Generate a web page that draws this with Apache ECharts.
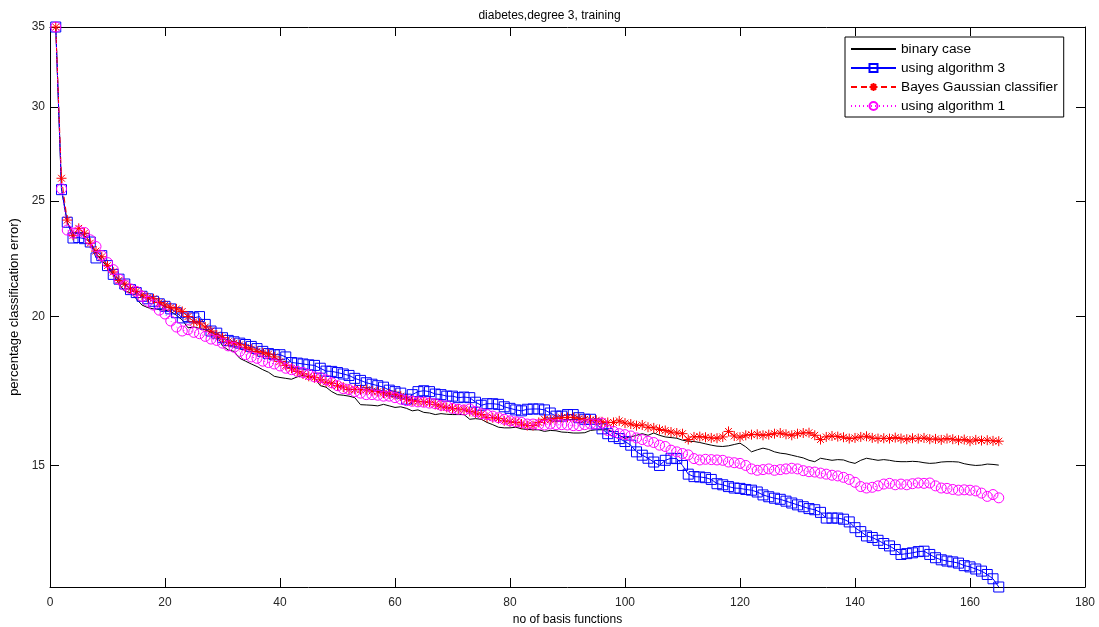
<!DOCTYPE html>
<html>
<head>
<meta charset="utf-8">
<script src="https://cdn.jsdelivr.net/npm/echarts@6/dist/echarts.min.js"></script>
<style>html,body{margin:0;padding:0;background:#fff}#c{width:1099px;height:627px}</style>
</head>
<body>
<div id="c"></div>
<script>
const titleText = 'diabetes,degree 3, training';
const xName = 'no of basis functions';
const yName = 'percentage classification error)';
const seriesNames = ['binary case', 'using algorithm 3', 'Bayes Gaussian classifier', 'using algorithm 1'];
const xTicks = [0, 20, 40, 60, 80, 100, 120, 140, 160, 180];
const yTicks = [15, 20, 25, 30, 35];

const binaryCase = [35,25.6,24.0,23.5,23.5,23.4,23.1,22.6,22.3,22.0,
21.7,21.3,21.0,20.95,20.7,20.45,20.35,20.3,20.28,20.25,
20.2,20.05,19.87,19.57,19.6,19.55,19.5,19.4,19.3,18.9,
18.75,18.7,18.45,18.35,18.25,18.16,18.05,17.96,17.82,17.78,
17.75,17.72,17.8,17.85,17.8,17.77,17.5,17.45,17.3,17.2,
17.18,17.15,17.1,16.87,16.86,16.85,16.83,16.88,16.83,16.78,
16.8,16.75,16.67,16.7,16.62,16.6,16.55,16.58,16.56,16.55,
16.55,16.55,16.4,16.42,16.4,16.3,16.23,16.15,16.13,16.13,
16.15,16.1,16.08,16.07,16.07,16.02,16.05,16.04,16.0,15.99,
15.97,15.97,15.98,16.05,16.07,16.07,16.07,16.0,15.9,15.81,
15.85,15.9,15.95,15.9,15.97,15.9,15.85,15.83,15.81,15.75,
15.72,15.71,15.68,15.64,15.6,15.57,15.56,15.58,15.62,15.66,
15.55,15.4,15.46,15.51,15.47,15.4,15.36,15.34,15.3,15.26,
15.22,15.15,15.11,15.21,15.18,15.15,15.17,15.16,15.1,15.06,
15.15,15.21,15.18,15.15,15.17,15.15,15.12,15.11,15.11,15.12,
15.11,15.08,15.06,15.07,15.1,15.11,15.11,15.1,15.05,15.02,
15.0,15.01,15.04,15.03,15.01];

const algorithm3 = [35,25.56,24.0,23.28,23.3,23.25,23.1,22.4,22.5,22.07,
21.7,21.5,21.3,21.07,20.95,20.8,20.7,20.6,20.5,20.4,
20.3,20.15,19.95,20.0,19.95,20.0,19.7,19.45,19.37,19.2,
19.1,19.05,19.0,18.95,18.88,18.8,18.7,18.62,18.58,18.58,
18.5,18.3,18.28,18.25,18.22,18.2,18.1,18.0,17.99,17.95,
17.9,17.85,17.75,17.68,17.6,17.55,17.5,17.45,17.35,17.3,
17.25,17.05,17.2,17.3,17.33,17.3,17.22,17.2,17.15,17.15,
17.1,17.12,17.1,16.95,16.85,16.9,16.9,16.88,16.8,16.75,
16.7,16.67,16.72,16.73,16.73,16.7,16.6,16.5,16.5,16.55,
16.55,16.45,16.4,16.4,16.25,16.1,15.95,15.86,15.8,15.71,
15.6,15.4,15.3,15.21,15.1,15.0,15.15,15.21,15.2,15.0,
14.75,14.68,14.67,14.65,14.6,14.48,14.45,14.4,14.36,14.35,
14.32,14.3,14.25,14.17,14.12,14.08,14.05,14.0,13.95,13.9,
13.85,13.8,13.77,13.7,13.55,13.55,13.55,13.52,13.45,13.3,
13.2,13.09,13.05,12.98,12.9,12.84,12.75,12.63,12.65,12.67,
12.7,12.71,12.63,12.55,12.5,12.47,12.45,12.42,12.36,12.33,
12.28,12.23,12.15,12.05,11.86];

const bayesGaussian = [35,26.13,24.1,23.4,23.72,23.5,23.05,22.7,22.45,22.07,
21.8,21.45,21.3,21.1,21.0,20.85,20.75,20.7,20.55,20.45,
20.35,20.3,20.2,20.0,19.8,19.75,19.6,19.45,19.3,19.2,
19.05,19.0,18.94,18.85,18.78,18.7,18.65,18.6,18.5,18.34,
18.2,18.1,17.99,17.9,17.82,17.77,17.7,17.62,17.58,17.5,
17.45,17.37,17.38,17.36,17.37,17.32,17.3,17.25,17.22,17.2,
17.15,17.05,17.0,16.98,16.96,16.95,16.88,16.82,16.78,16.75,
16.73,16.7,16.65,16.6,16.55,16.46,16.45,16.42,16.35,16.32,
16.3,16.25,16.2,16.2,16.3,16.4,16.38,16.42,16.45,16.46,
16.46,16.42,16.4,16.38,16.37,16.32,16.3,16.3,16.35,16.28,
16.25,16.2,16.22,16.15,16.13,16.08,16.05,16.0,15.97,15.95,
15.77,15.85,15.86,15.84,15.82,15.81,15.85,16.02,15.88,15.84,
15.9,15.92,15.93,15.9,15.92,15.95,15.97,15.93,15.9,15.95,
15.97,15.98,15.9,15.77,15.85,15.88,15.86,15.84,15.8,15.82,
15.85,15.87,15.82,15.8,15.81,15.8,15.83,15.8,15.78,15.81,
15.8,15.82,15.78,15.79,15.76,15.8,15.78,15.75,15.77,15.72,
15.76,15.74,15.75,15.73,15.72];

const algorithm1 = [35,25.6,23.64,23.5,23.6,23.53,23.2,22.9,22.5,22.2,
21.9,21.5,21.25,21.1,21.0,20.8,20.6,20.45,20.25,20.1,
19.83,19.6,19.45,19.5,19.4,19.35,19.25,19.15,19.1,19.0,
18.9,18.85,18.7,18.58,18.5,18.45,18.35,18.3,18.25,18.18,
18.1,18.05,17.99,17.95,17.88,17.8,17.77,17.7,17.6,17.5,
17.4,17.37,17.3,17.25,17.2,17.2,17.18,17.15,17.15,17.1,
17.05,17.0,16.98,16.96,16.95,16.92,16.9,16.85,16.83,16.75,
16.72,16.7,16.73,16.65,16.58,16.55,16.5,16.45,16.4,16.35,
16.32,16.3,16.25,16.25,16.23,16.22,16.25,16.23,16.23,16.22,
16.2,16.2,16.23,16.25,16.25,16.28,16.05,16.02,15.95,15.92,
15.88,15.82,15.77,15.72,15.68,15.6,15.56,15.45,15.4,15.35,
15.31,15.2,15.16,15.18,15.17,15.16,15.15,15.1,15.08,15.06,
15.0,14.9,14.86,14.88,14.9,14.86,14.88,14.9,14.92,14.9,
14.85,14.82,14.81,14.78,14.75,14.72,14.7,14.66,14.6,14.52,
14.4,14.36,14.38,14.42,14.47,14.49,14.45,14.47,14.45,14.48,
14.5,14.49,14.5,14.42,14.36,14.35,14.32,14.3,14.31,14.3,
14.28,14.22,14.13,14.18,14.09];

const yMin = 11.86, yMax = 35;
const FONT = 'Liberation Sans, Arial, sans-serif';
const toPairs = arr => arr.map((v, i) => [i + 1, v]);

const chart = echarts.init(document.getElementById('c'), null, {renderer: 'canvas'});

const axisLineStyle = {show: true, onZero: false, lineStyle: {color: '#000', width: 1}};
const tickStyle = {show: true, inside: true, length: 9, lineStyle: {color: '#000', width: 1}};
const xCommon = {type: 'value', min: 0, max: 180, interval: 20, splitLine: {show: false}, axisLine: axisLineStyle};
const yCommon = {type: 'log', logBase: 10, min: yMin, max: yMax, splitLine: {show: false}, minorTick: {show: false}, axisLine: axisLineStyle,
  axisTick: Object.assign({}, tickStyle, {customValues: yTicks})};

const asterisk = 'path://M5,0L5,10M0,5L10,5M1.6,1.6L8.4,8.4M1.6,8.4L8.4,1.6';

chart.setOption({
  animation: false,
  backgroundColor: '#fff',
  title: {text: titleText, left: 'center', top: 5, textStyle: {fontFamily: FONT, fontSize: 12, fontWeight: 'normal', color: '#000'}},
  grid: {left: 50, right: 14, top: 27, bottom: 40, containLabel: false, outerBoundsMode: 'none'},
  legend: {
    left: 845, top: 37, orient: 'vertical', backgroundColor: '#fff', borderColor: '#000', borderWidth: 1,
    padding: [5, 6, 4, 5], itemWidth: 45, itemHeight: 10, itemGap: 5,
    textStyle: {fontFamily: FONT, fontSize: 13.7, color: '#000'},
    data: [
      {name: seriesNames[0], itemStyle: {color: 'rgba(0,0,0,0)', borderWidth: 0}},
      {name: seriesNames[1]},
      {name: seriesNames[2]},
      {name: seriesNames[3]}
    ]
  },
  xAxis: [
    Object.assign({}, xCommon, {position: 'bottom', name: xName, nameLocation: 'middle', nameGap: 19,
      nameTextStyle: {fontFamily: FONT, fontSize: 12, color: '#000'},
      axisTick: tickStyle,
      axisLabel: {show: true, fontFamily: FONT, fontSize: 12, color: '#262626', margin: 10,
        customValues: xTicks}}),
    Object.assign({}, xCommon, {position: 'top',
      axisTick: tickStyle,
      axisLabel: {show: false}})
  ],
  yAxis: [
    Object.assign({}, yCommon, {position: 'left',
      name: yName, nameLocation: 'middle', nameGap: 27,
      nameTextStyle: {fontFamily: FONT, fontSize: 13, color: '#000'},
      axisLabel: {show: true, fontFamily: FONT, fontSize: 12, color: '#262626', margin: 5, customValues: yTicks}}),
    Object.assign({}, yCommon, {position: 'right',
      axisLabel: {show: false}})
  ],
  series: [
    {name: seriesNames[0], type: 'line', data: toPairs(binaryCase), symbol: 'none', clip: false,
      lineStyle: {color: '#000', width: 1}, itemStyle: {color: '#000'}},
    {name: seriesNames[1], type: 'line', data: toPairs(algorithm3), symbol: 'rect', symbolSize: 10, clip: false,
      lineStyle: {color: '#0000ff', width: 1}, itemStyle: {color: 'rgba(0,0,0,0)', borderColor: '#0000ff', borderWidth: 1}},
    {name: seriesNames[2], type: 'line', data: toPairs(bayesGaussian), symbol: asterisk, symbolSize: 10, clip: false,
      lineStyle: {color: '#ff0000', width: 1, type: [6, 4]}, itemStyle: {color: 'rgba(0,0,0,0)', borderColor: '#ff0000', borderWidth: 1}},
    {name: seriesNames[3], type: 'line', data: toPairs(algorithm1), symbol: 'circle', symbolSize: 10, clip: false,
      lineStyle: {color: '#ff00ff', width: 1, type: [1, 3]}, itemStyle: {color: 'rgba(0,0,0,0)', borderColor: '#ff00ff', borderWidth: 1}}
  ]
});
</script>
</body>
</html>
